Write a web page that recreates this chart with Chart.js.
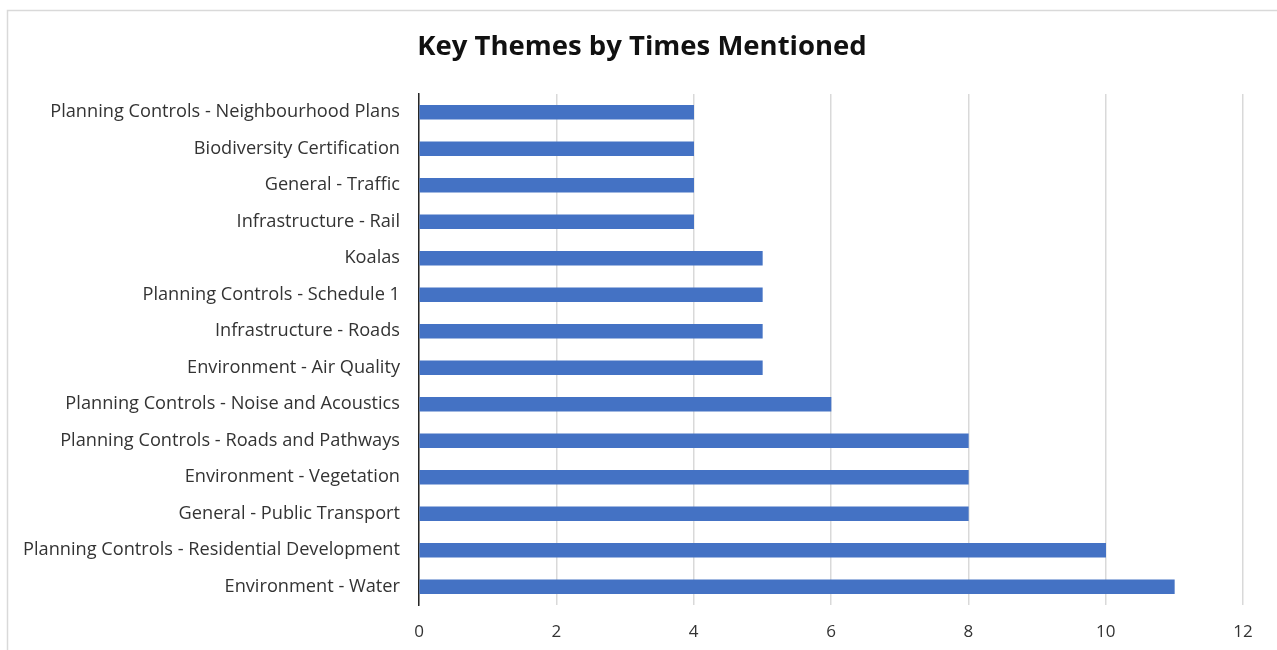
<!DOCTYPE html>
<html>
<head>
<meta charset="utf-8">
<script src="https://cdn.jsdelivr.net/npm/chart.js@4.4.1/dist/chart.umd.min.js"></script>
<style>
  html, body { margin: 0; padding: 0; background: #ffffff; }
  #c { display: block; }
</style>
</head>
<body>
<canvas id="c" width="1277" height="650"></canvas>
<script>
const categories = [
  "Planning Controls - Neighbourhood Plans",
  "Biodiversity Certification",
  "General - Traffic",
  "Infrastructure - Rail",
  "Koalas",
  "Planning Controls - Schedule 1",
  "Infrastructure - Roads",
  "Environment - Air Quality",
  "Planning Controls - Noise and Acoustics",
  "Planning Controls - Roads and Pathways",
  "Environment - Vegetation",
  "General - Public Transport",
  "Planning Controls - Residential Development",
  "Environment - Water"
];
const timesMentioned = [4, 4, 4, 4, 5, 5, 5, 5, 6, 8, 8, 8, 10, 11];
const xTicks = [0, 2, 4, 6, 8, 10, 12];
const chartTitle = "Key Themes by Times Mentioned";

const framePlugin = {
  id: 'frame',
  beforeDraw(chart) {
    const ctx = chart.ctx;
    ctx.save();
    ctx.fillStyle = '#ffffff';
    ctx.fillRect(0, 0, chart.width, chart.height);
    ctx.strokeStyle = '#d9d9d9';
    ctx.lineWidth = 1.5;
    ctx.beginPath();
    ctx.moveTo(7.5, chart.height);
    ctx.lineTo(7.5, 10.5);
    ctx.lineTo(chart.width, 10.5);
    ctx.stroke();
    ctx.restore();
  },
  afterDraw(chart) {
    const ctx = chart.ctx;
    ctx.save();
    ctx.fillStyle = '#111111';
    ctx.font = 'bold 27.5px "Open Sans"';
    ctx.textAlign = 'center';
    ctx.textBaseline = 'middle';
    ctx.fillText(chartTitle, 642, 47);
    ctx.restore();
  }
};

new Chart(document.getElementById('c'), {
  type: 'bar',
  data: {
    labels: categories,
    datasets: [{
      data: timesMentioned,
      backgroundColor: '#4472C4',
      borderWidth: 0,
      barThickness: 14
    }]
  },
  options: {
    indexAxis: 'y',
    responsive: false,
    animation: false,
    layout: { padding: { left: 0, right: 34, top: 94, bottom: 0 } },
    plugins: {
      legend: { display: false },
      tooltip: { enabled: false },
      title: { display: false }
    },
    scales: {
      x: {
        min: 0,
        max: 12,
        afterBuildTicks(scale) { scale.ticks = xTicks.map(v => ({ value: v })); },
        afterFit(scale) { scale.height = 45; },
        grid: { color: '#d9d9d9', lineWidth: 1.5, drawTicks: false },
        border: { display: false },
        ticks: {
          color: '#333333',
          font: { family: 'Open Sans', size: 17 },
          padding: 17
        }
      },
      y: {
        afterFit(scale) { scale.width = 419; },
        grid: { display: false, drawTicks: false },
        border: { display: true, color: '#262626', width: 1.5 },
        ticks: {
          color: '#333333',
          font: { family: 'Open Sans', size: 18.2 },
          padding: 19
        }
      }
    }
  },
  plugins: [framePlugin]
});
</script>
</body>
</html>
